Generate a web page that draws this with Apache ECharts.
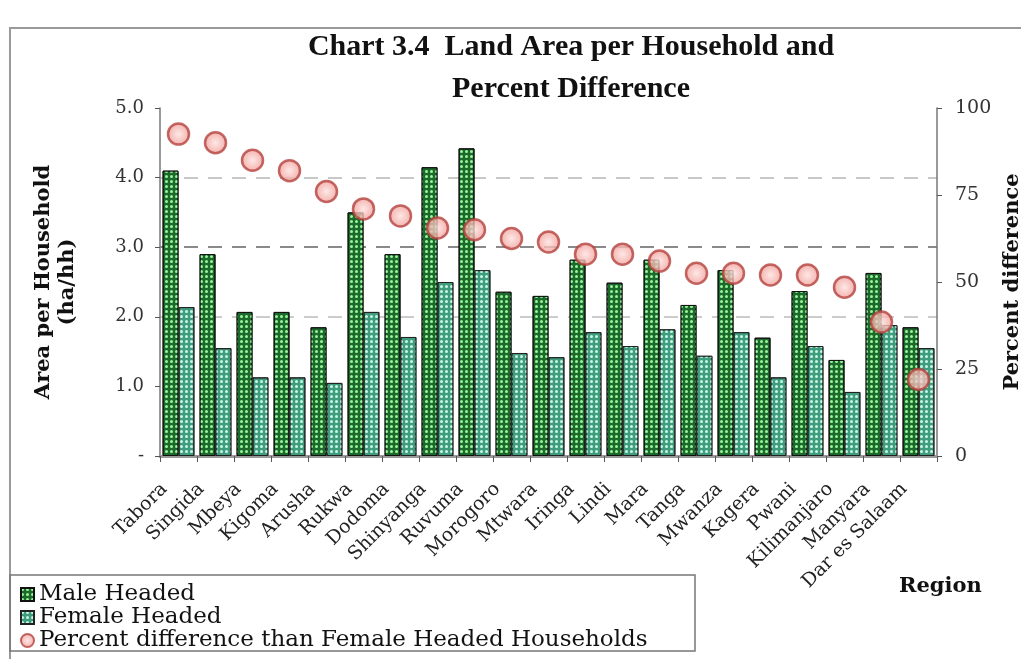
<!DOCTYPE html>
<html><head><meta charset="utf-8">
<script src="https://cdn.jsdelivr.net/npm/echarts@6/dist/echarts.min.js"></script>
<style>html,body{margin:0;padding:0;background:#fff}#c{width:1021px;height:659px}</style>
</head><body><div id="c"></div>
<script>
const regions = ['Tabora','Singida','Mbeya','Kigoma','Arusha','Rukwa','Dodoma','Shinyanga','Ruvuma','Morogoro','Mtwara','Iringa','Lindi','Mara','Tanga','Mwanza','Kagera','Pwani','Kilimanjaro','Manyara','Dar es Salaam'];
const maleHeaded   = [4.1, 2.9, 2.07, 2.07, 1.85, 3.5, 2.9, 4.15, 4.42, 2.36, 2.3, 2.82, 2.49, 2.82, 2.17, 2.67, 1.7, 2.37, 1.38, 2.63, 1.85];
const femaleHeaded = [2.14, 1.55, 1.13, 1.13, 1.05, 2.07, 1.71, 2.5, 2.67, 1.48, 1.42, 1.78, 1.58, 1.82, 1.44, 1.78, 1.13, 1.58, 0.92, 1.88, 1.55];
const percentDiff  = [92.5, 90, 85, 82, 76, 71, 69, 65.5, 65, 62.5, 61.5, 58, 58, 56, 52.5, 52.5, 52, 52, 48.5, 38.5, 22];
const leftTicks = ['-', '1.0', '2.0', '3.0', '4.0', '5.0'];

const serif = 'Liberation Serif';
const wide = 'DejaVu Serif';
const chart = echarts.init(document.getElementById('c'));
chart.setOption({
  animation: false,
  backgroundColor: '#fff',
  title: {
    text: 'Chart 3.4  Land Area per Household and\nPercent Difference',
    left: 566, top: 21, textAlign: 'center',
    textStyle: {fontFamily: serif, fontWeight: 'bold', fontSize: 30, lineHeight: 42, color: '#111'}
  },
  legend: {
    orient: 'vertical', left: 15, top: 578, itemGap: 0, itemWidth: 13, itemHeight: 13,
    textStyle: {fontFamily: wide, fontSize: 23, lineHeight: 22, color: '#111'},
    data: [{name: 'Male Headed', icon: 'rect'}, {name: 'Female Headed', icon: 'rect'}, {name: 'Percent difference than Female Headed Households', icon: 'circle'}]
  },
  grid: {left: 160, right: 84, top: 108, bottom: 203, containLabel: false, outerBoundsMode: 'none'},
  xAxis: [{
    type: 'category', data: regions,
    axisLine: {lineStyle: {color: '#777', width: 1.5}},
    axisTick: {show: true, lineStyle: {color: '#555'}, length: 6},
    axisLabel: {rotate: 45, interval: 0, fontFamily: wide, fontSize: 19, color: '#222', margin: 16, padding: [0, 20, 0, 0]}
  }, {
    type: 'category', data: regions, position: 'top',
    axisLine: {lineStyle: {color: '#999', width: 3}}, axisTick: {show: false}, axisLabel: {show: false}
  }],
  yAxis: [{
    type: 'value', min: 0, max: 5, interval: 1,
    name: 'Area per Household\n(ha/hh)', nameLocation: 'middle', nameGap: 80, nameRotate: 90,
    nameTextStyle: {fontFamily: wide, fontWeight: 'bold', fontSize: 21, lineHeight: 24, color: '#111'},
    axisLine: {show: true, lineStyle: {color: '#777', width: 1.5}},
    axisTick: {show: true, length: 5, lineStyle: {color: '#555'}},
    axisLabel: {fontFamily: wide, fontSize: 18, color: '#333', margin: 16,
      formatter: (v) => leftTicks[Math.round(v)]},
    splitLine: {show: true, lineStyle: {type: [14, 10], width: 2, color: ['rgba(0,0,0,0)', 'rgba(0,0,0,0)', '#cccccc', '#8a8a8a', '#c8c8c8', 'rgba(0,0,0,0)']}}
  }, {
    type: 'value', min: 0, max: 100, interval: 25, position: 'right',
    name: 'Percent difference', nameLocation: 'middle', nameGap: 61, nameRotate: 90,
    nameTextStyle: {fontFamily: wide, fontWeight: 'bold', fontSize: 21, color: '#111'},
    axisLine: {show: true, lineStyle: {color: '#777', width: 1.5}},
    axisTick: {show: true, length: 5, lineStyle: {color: '#555'}},
    axisLabel: {fontFamily: wide, fontSize: 19, color: '#333', margin: 18},
    splitLine: {show: false}
  }],
  series: [{
    name: 'Male Headed', type: 'bar', data: maleHeaded, barGap: '0%', barCategoryGap: '14%',
    itemStyle: {color: '#1b6a2b', borderColor: '#111', borderWidth: 1,
      decal: {symbol: 'circle', color: '#9af59c', symbolSize: 1, dashArrayX: [3, 1.5], dashArrayY: [3, 1.5]}}
  }, {
    name: 'Female Headed', type: 'bar', data: femaleHeaded,
    itemStyle: {color: '#3f9d7e', borderColor: '#222', borderWidth: 1,
      decal: {symbol: 'circle', color: '#c8f7e6', symbolSize: 1, dashArrayX: [3, 1.5], dashArrayY: [3, 1.5]}}
  }, {
    name: 'Percent difference than Female Headed Households', type: 'scatter', yAxisIndex: 1, data: percentDiff,
    symbol: 'circle', symbolSize: 21, z: 5,
    itemStyle: {color: {type: 'radial', x: 0.5, y: 0.5, r: 0.5, colorStops: [{offset: 0, color: '#fde2df'}, {offset: 1, color: '#f09a95'}]},
      borderColor: '#b4423e', borderWidth: 2.5}
  }],
  graphic: [
    {type: 'rect', shape: {x: 10, y: 28, width: 1030, height: 660}, style: {fill: 'none', stroke: '#9a9a9a', lineWidth: 2}, silent: true},
    {type: 'rect', shape: {x: 10, y: 575, width: 685, height: 76}, style: {fill: 'none', stroke: '#777', lineWidth: 1.5}, silent: true},
    {type: 'text', left: 899, top: 576, style: {text: 'Region', fontFamily: wide, fontWeight: 'bold', fontSize: 21, fill: '#111'}}
  ]
});
</script></body></html>
